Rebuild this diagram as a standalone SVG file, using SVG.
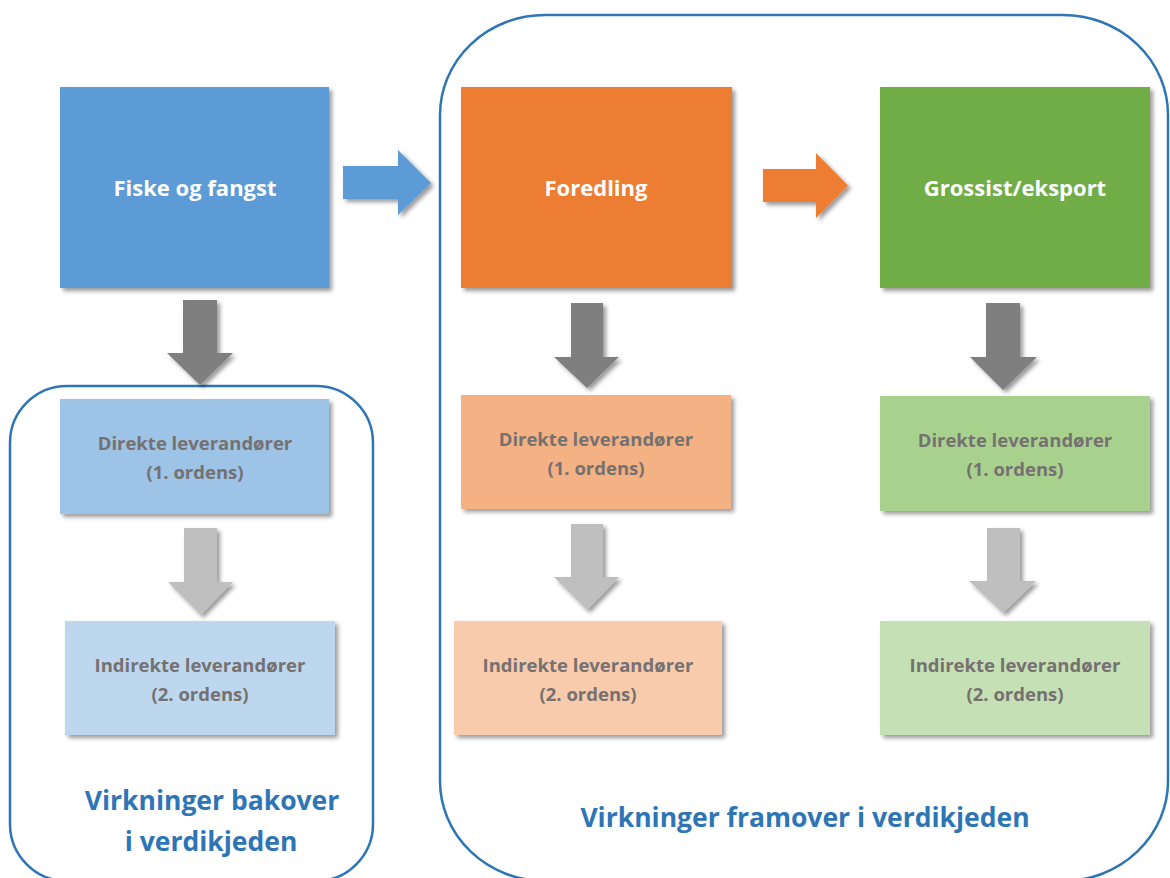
<svg xmlns="http://www.w3.org/2000/svg" width="1170" height="878" viewBox="0 0 1170 878">
<defs>
<filter id="sh" x="-10%" y="-10%" width="130%" height="130%">
<feDropShadow dx="3" dy="3" stdDeviation="2" flood-color="#000" flood-opacity="0.4"/>
</filter>
<style>
.main{font-family:"Open Sans","Liberation Sans",sans-serif;font-weight:bold;font-size:22px;fill:#fff;text-anchor:middle}
.sub{font-family:"Open Sans","Liberation Sans",sans-serif;font-weight:bold;font-size:18.5px;fill:#767171;text-anchor:middle}
.lab{font-family:"Open Sans","Liberation Sans",sans-serif;font-weight:bold;font-size:26.5px;fill:#2E75B6;text-anchor:middle}
.cont{fill:none;stroke:#2E75B6;stroke-width:2.5}
.dark{fill:#7F7F7F}
.light{fill:#BFBFBF}
</style>
</defs>
<rect width="1170" height="878" fill="#fff"/>

<g id="container-bakover">
<rect class="cont" x="10" y="386" width="363" height="495" rx="57" ry="57"/>
<text class="lab" x="212" y="810">Virkninger bakover</text>
<text class="lab" x="211" y="851">i verdikjeden</text>
</g>
<g id="container-framover">
<rect class="cont" x="440" y="15" width="728" height="866" rx="105" ry="100"/>
<text class="lab" x="805" y="827">Virkninger framover i verdikjeden</text>
</g>

<g id="fiske">
<rect x="60" y="87" width="269" height="201" fill="#5B9BD5" filter="url(#sh)"/>
<text class="main" x="195" y="196">Fiske og fangst</text>
</g>
<g id="foredling">
<rect x="461" y="87" width="271" height="201" fill="#ED7D31" filter="url(#sh)"/>
<text class="main" x="596" y="196">Foredling</text>
</g>
<g id="grossist">
<rect x="880" y="87" width="270" height="201" fill="#70AD47" filter="url(#sh)"/>
<text class="main" x="1015" y="196">Grossist/eksport</text>
</g>

<g id="fiske-direkte">
<rect x="60" y="399" width="269" height="115" fill="#9DC3E6" filter="url(#sh)"/>
<text class="sub" x="195" y="450">Direkte leverandører</text>
<text class="sub" x="195" y="479">(1. ordens)</text>
</g>
<g id="fiske-indirekte">
<rect x="65" y="621" width="270" height="114" fill="#BDD7EE" filter="url(#sh)"/>
<text class="sub" x="200" y="672">Indirekte leverandører</text>
<text class="sub" x="200" y="701">(2. ordens)</text>
</g>
<g id="foredling-direkte">
<rect x="461" y="395" width="270" height="114" fill="#F4B183" filter="url(#sh)"/>
<text class="sub" x="596" y="446">Direkte leverandører</text>
<text class="sub" x="596" y="475">(1. ordens)</text>
</g>
<g id="foredling-indirekte">
<rect x="454" y="621" width="268" height="114" fill="#F8CBAD" filter="url(#sh)"/>
<text class="sub" x="588" y="672">Indirekte leverandører</text>
<text class="sub" x="588" y="701">(2. ordens)</text>
</g>
<g id="grossist-direkte">
<rect x="880" y="396" width="270" height="115" fill="#A9D18E" filter="url(#sh)"/>
<text class="sub" x="1015" y="447">Direkte leverandører</text>
<text class="sub" x="1015" y="476">(1. ordens)</text>
</g>
<g id="grossist-indirekte">
<rect x="880" y="621" width="270" height="114" fill="#C5E0B4" filter="url(#sh)"/>
<text class="sub" x="1015" y="672">Indirekte leverandører</text>
<text class="sub" x="1015" y="701">(2. ordens)</text>
</g>

<g id="connectors" filter="url(#sh)">
<polygon fill="#5B9BD5" points="343,166 398,166 398,150 431,183 398,215 398,199 343,199"/>
<polygon fill="#ED7D31" points="763,169 816,169 816,153 848,185.5 816,218 816,202 763,202"/>
<polygon class="dark" points="183,300 217,300 217,353 233,353 200,385 167,353 183,353"/>
<polygon class="dark" points="571,303 603,303 603,357 619,357 587,388 554,357 571,357"/>
<polygon class="dark" points="986,303 1020,303 1020,357 1037,357 1003,390 970,357 986,357"/>
<polygon class="light" points="184,528 217,528 217,582 233,582 200.5,615 168,582 184,582"/>
<polygon class="light" points="571,524 603,524 603,577 619,577 587,610 554,577 571,577"/>
<polygon class="light" points="987,528 1020,528 1020,581 1036,581 1003,613 969,581 987,581"/>
</g>
</svg>
